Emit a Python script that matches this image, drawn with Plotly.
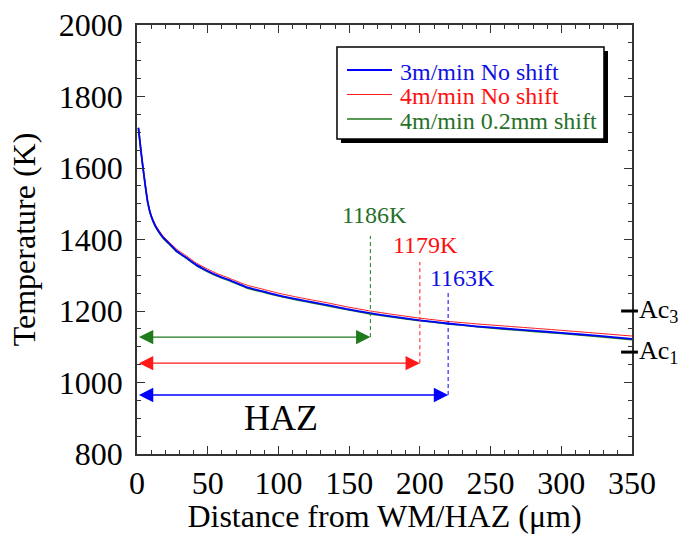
import plotly.graph_objects as go

# ---------------- data ----------------
x_um = [1.0, 2.8, 4.2, 5.9, 7.6, 9.9, 12.9, 15.5, 18.6, 23, 28, 35, 42, 50, 57, 65, 78, 90,
        101, 113, 125, 137, 148, 165, 180, 200, 220, 240, 260, 280, 300, 325, 350]
t_3m_noshift = [1712, 1648, 1602, 1550, 1504, 1467, 1439, 1422, 1405, 1388, 1368, 1349, 1329,
                1312, 1299, 1287, 1266, 1254, 1243, 1233, 1224, 1215, 1206, 1194, 1185,
                1174, 1165, 1157, 1151, 1145, 1139, 1131, 1122]
t_4m_noshift = [1713, 1649, 1603, 1552, 1506, 1470, 1442, 1426, 1409, 1392, 1373, 1354, 1334,
                1317, 1304, 1292, 1272, 1260, 1249, 1239, 1230, 1221, 1212, 1200, 1191,
                1180, 1171, 1164, 1158, 1152, 1146, 1138, 1130]
t_4m_shift = [1712, 1648, 1602, 1550, 1503, 1466, 1437, 1420, 1403, 1386, 1366, 1347, 1327,
              1310, 1297, 1285, 1264, 1252, 1241, 1231, 1222, 1213, 1204, 1192, 1183,
              1173, 1164, 1156, 1149, 1143, 1137, 1129, 1120]

series_names = ["3m/min No shift", "4m/min No shift", "4m/min 0.2mm shift"]
haz_width_um = [220, 200, 165]          # HAZ end for each series
haz_temp_labels = ["1163K", "1179K", "1186K"]
ac_names = ["Ac<sub>3</sub>", "Ac<sub>1</sub>"]
ac_temps = [1200, 1085]

x_ticks = [0, 50, 100, 150, 200, 250, 300, 350]
y_ticks = [800, 1000, 1200, 1400, 1600, 1800, 2000]

# ---------------- style ----------------
colors = ["#0000ff", "#ff1a1a", "#1e7b1e"]
text_colors = ["#1010e0", "#ff1010", "#26702a"]
widths = [1.8, 1.0, 1.6]
FONT = "Liberation Serif, Times New Roman, serif"

fig = go.Figure()
series = [t_3m_noshift, t_4m_noshift, t_4m_shift]
# draw order: green, red, blue (blue on top)
for i in [2, 1, 0]:
    fig.add_trace(go.Scatter(
        x=x_um, y=series[i], mode="lines", line_shape="spline",
        line=dict(color=colors[i], width=widths[i], smoothing=0.5),
        name=series_names[i], showlegend=False,
    ))

# HAZ arrows, dashed markers and labels
arrow_y = [965, 1054, 1127]
dash_top = [1253, 1337, 1410]
label_pos = [(230.5, 1292), (204, 1385), (168, 1469)]
for i in range(3):
    fig.add_trace(go.Scatter(
        x=[haz_width_um[i], haz_width_um[i]], y=[arrow_y[i], dash_top[i]],
        mode="lines", line=dict(color=colors[i], width=1, dash="4px,3px"),
        showlegend=False, hoverinfo="skip"))
    fig.add_annotation(
        x=haz_width_um[i], y=arrow_y[i], ax=0.3, ay=arrow_y[i],
        xref="x", yref="y", axref="x", ayref="y", text="",
        showarrow=True, arrowside="end+start", arrowhead=2, startarrowhead=2,
        arrowsize=2.2, startarrowsize=2.2, arrowwidth=1.3, arrowcolor=colors[i],
        standoff=0, startstandoff=0)
    fig.add_annotation(
        x=label_pos[i][0], y=label_pos[i][1], xref="x", yref="y",
        text=haz_temp_labels[i], showarrow=False,
        font=dict(family=FONT, size=24, color=text_colors[i]))

fig.add_annotation(x=102, y=902, xref="x", yref="y", text="HAZ", showarrow=False,
                   font=dict(family=FONT, size=36, color="black"))

# Ac1 / Ac3 markers on the right axis
for name, t in zip(ac_names, ac_temps):
    fig.add_shape(type="line", xref="paper", yref="y", x0=0.978, x1=1.012, y0=t, y1=t,
                  line=dict(color="black", width=3))
    fig.add_annotation(x=1.010, y=t, xref="paper", yref="y", xanchor="left", yanchor="middle",
                       text=name, showarrow=False,
                       font=dict(family=FONT, size=26, color="black"))

# ---------------- legend (box with drop shadow) ----------------
fig.add_shape(type="rect", xref="paper", yref="paper",
              x0=0.4121, x1=0.9515, y0=0.7249, y1=0.9394,
              fillcolor="black", line=dict(width=0), layer="above")
fig.add_shape(type="rect", xref="paper", yref="paper",
              x0=0.4040, x1=0.9434, y0=0.7343, y1=0.9487,
              fillcolor="white", line=dict(color="black", width=1.5), layer="above")
legend_rows = [0.8951, 0.8380, 0.7809]
for i in range(3):
    fig.add_shape(type="line", xref="paper", yref="paper",
                  x0=0.4242, x1=0.5152, y0=legend_rows[i], y1=legend_rows[i],
                  line=dict(color=colors[i], width=widths[i]), layer="above")
    fig.add_annotation(x=0.5273, y=legend_rows[i] - 0.004, xref="paper", yref="paper",
                       xanchor="left", yanchor="middle", text=series_names[i],
                       showarrow=False,
                       font=dict(family=FONT, size=24, color=text_colors[i]))

axis_common = dict(
    showline=True, linecolor="#333333", linewidth=1.5, mirror="allticks",
    ticks="inside", ticklen=8, tickwidth=1.2, tickcolor="#333333",
    tickfont=dict(family=FONT, size=32, color="black"),
    showgrid=False, zeroline=False, automargin=False,
)

fig.update_layout(
    template="none",
    width=681, height=534,
    margin=dict(l=137, r=49, t=25, b=80),
    paper_bgcolor="white", plot_bgcolor="white",
    font=dict(family=FONT, color="black"),
    xaxis=dict(range=[0, 350], tickvals=x_ticks, autorange=False,
               minor=dict(dtick=10, ticks="inside", ticklen=4, tickcolor="#333333"),
               title=dict(text="Distance from WM/HAZ (μm)", standoff=2,
                          font=dict(family=FONT, size=32)),
               **axis_common),
    yaxis=dict(range=[800, 2000], tickvals=y_ticks, autorange=False,
               minor=dict(dtick=50, ticks="inside", ticklen=4, tickcolor="#333333"),
               title=dict(text="Temperature (K)", standoff=14,
                          font=dict(family=FONT, size=32)),
               ticklabelstandoff=6,
               **axis_common),
    showlegend=False,
)

fig.write_html("out.html", config={"displayModeBar": False},
               post_script="document.body.style.margin='0';")
